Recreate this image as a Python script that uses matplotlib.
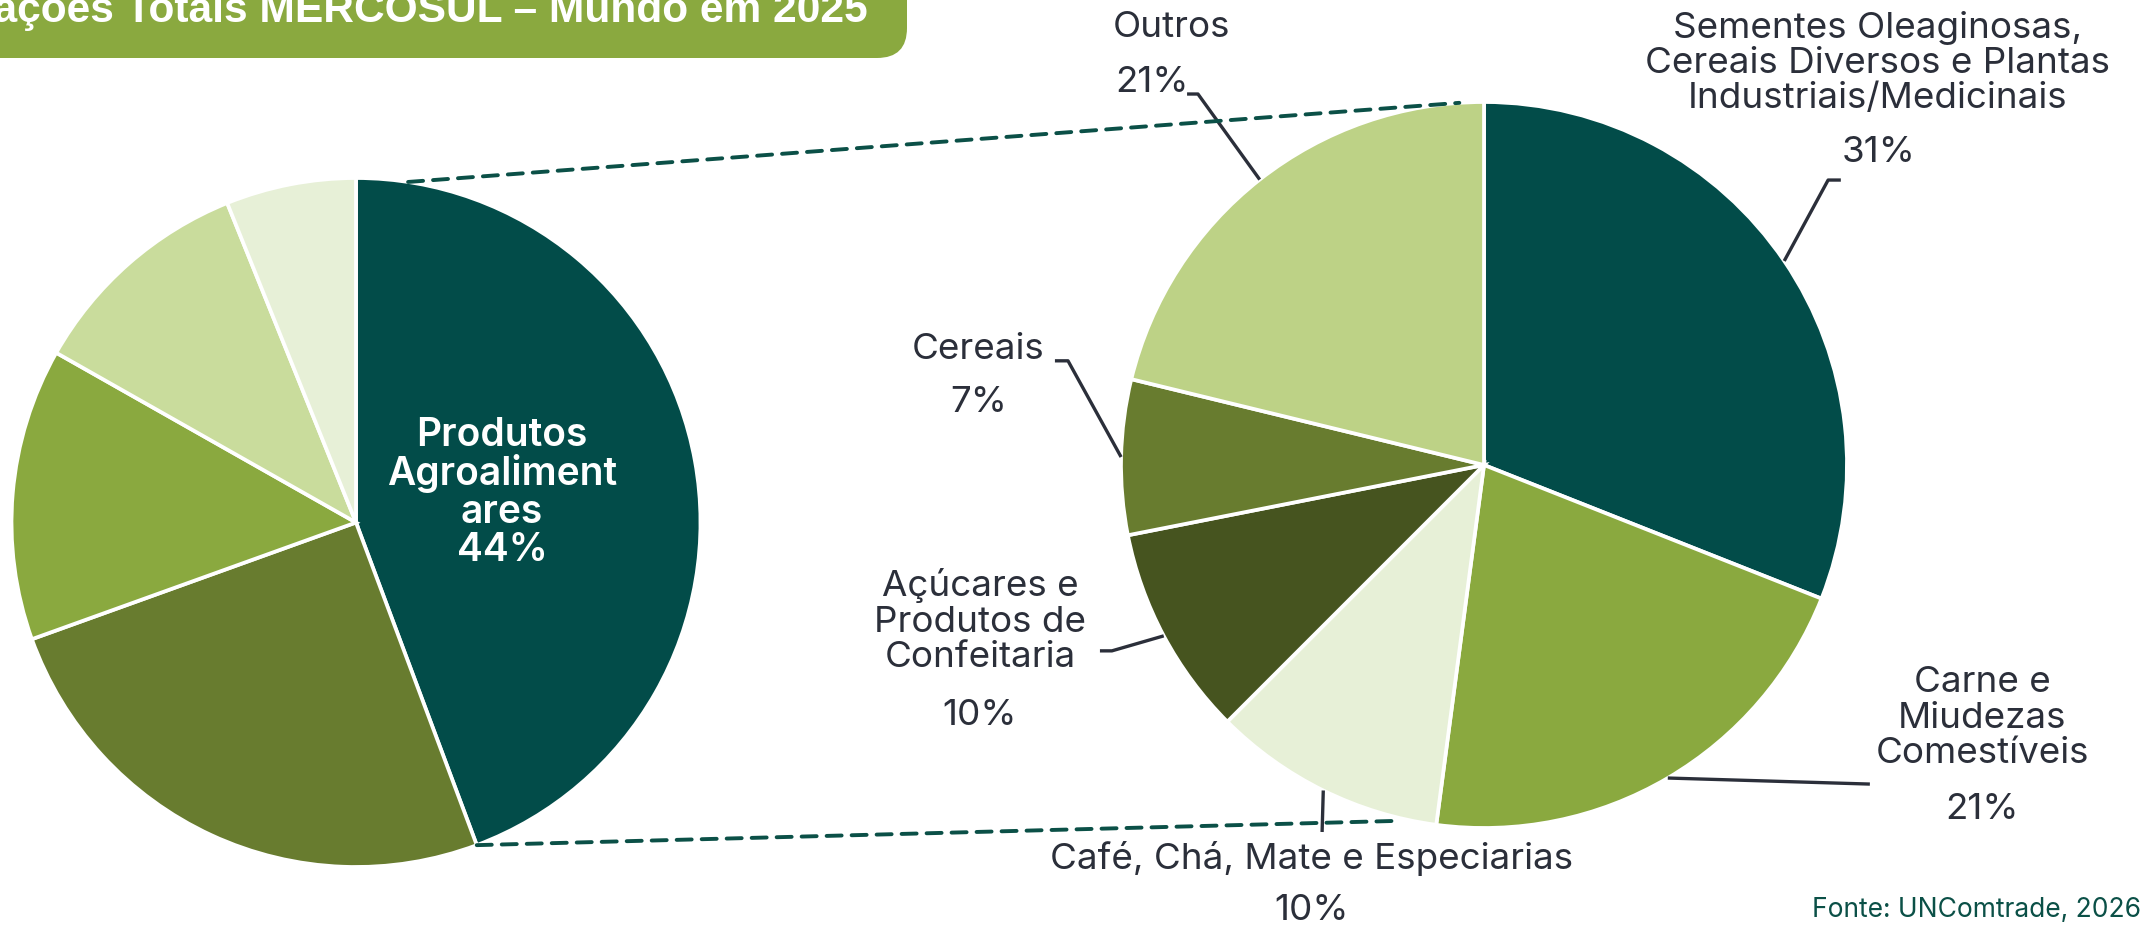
import matplotlib.pyplot as plt
from matplotlib.patches import FancyBboxPatch, ConnectionPatch
import numpy as np

plt.rcParams['font.family'] = ['Inter', 'DejaVu Sans']

# ---------- data ---------- #
# left pie: total exports, only the agro-food slice is labelled
left_values = [44.3, 25.2, 13.7, 10.7, 6.1]
left_name = "Produtos\nAgroaliment\nares"

# right pie: breakdown of agro-food products (clockwise from 12 o'clock)
right_names = [
    "Sementes Oleaginosas,\nCereais Diversos e Plantas\nIndustriais/Medicinais",
    "Carne e\nMiudezas\nComestíveis",
    "Café, Chá, Mate e Especiarias",
    "Açúcares e\nProdutos de\nConfeitaria",
    "Cereais",
    "Outros",
]
right_values = [31.0, 21.1, 10.4, 9.4, 6.9, 21.2]
right_pct = [31, 21, 10, 10, 7, 21]

# ---------- styling ---------- #
TEAL = "#024c49"
OLIVE = "#687c2f"
GREEN = "#8aa93f"
DARK_OLIVE = "#46541f"
TEXT = "#2b2f3a"
left_colors = [TEAL, OLIVE, GREEN, "#c9dc9c", "#e7f0d7"]
right_colors = [TEAL, GREEN, "#e7f0d7", DARK_OLIVE, OLIVE, "#bdd286"]

# label placement (right pie data units, radius = 1)
name_pos = [(1.085, 1.107), (1.372, -0.697), (-0.474, -1.083),
            (-1.388, -0.430), (-1.394, 0.317), (-0.862, 1.205)]
pct_pos = [(1.088, 0.860), (1.372, -0.948), (-0.474, -1.226),
           (-1.391, -0.689), (-1.391, 0.171), (-0.915, 1.055)]
# leader line start + elbow (end point is the wedge mid angle on the rim)
leaders = [[(0.983, 0.785), (0.948, 0.785)],
           [(1.063, -0.879)],
           [(-0.446, -1.011)],
           [(-1.058, -0.512), (-1.025, -0.512)],
           [(-1.182, 0.287), (-1.146, 0.287)],
           [(-0.818, 1.022), (-0.788, 1.022)]]

W, H = 2156, 926
fig = plt.figure(figsize=(W / 100, H / 100), dpi=100)

# background layer in pixel units for the title tab
bg = fig.add_axes([0, 0, 1, 1])
bg.set_xlim(0, W)
bg.set_ylim(H, 0)
bg.axis("off")
bg.add_patch(FancyBboxPatch((-60, -60), 907 + 60, 58 + 60,
                            boxstyle="round,pad=0,rounding_size=30",
                            facecolor=GREEN, edgecolor="none"))
fig.text(868 / W, (H - 22) / H, "Exportações Totais MERCOSUL – Mundo em 2025",
         ha="right", va="baseline", fontsize=30.6, fontweight="bold",
         family="Liberation Sans", color="white")

# ---------- left pie ---------- #
lc, lr = (356, 522.5), 344.5
ax1 = fig.add_axes([(lc[0] - lr) / W, (H - lc[1] - lr) / H, 2 * lr / W, 2 * lr / H])
w1, _ = ax1.pie(left_values, colors=left_colors, startangle=90, counterclock=False,
                wedgeprops=dict(edgecolor="white", linewidth=2.7))
ax1.set_xlim(-1, 1)
ax1.set_ylim(-1, 1)
ax1.axis("off")
ax1.text(0.424, 0.086, f"{left_name}\n{round(left_values[0])}%", ha="center", va="center",
         fontsize=28, fontweight="semibold", color="white", linespacing=1.03)

# ---------- right pie ---------- #
rc, rr = (1484, 465), 363
ax2 = fig.add_axes([(rc[0] - rr) / W, (H - rc[1] - rr) / H, 2 * rr / W, 2 * rr / H])
w2, _ = ax2.pie(right_values, colors=right_colors, startangle=90, counterclock=False,
                wedgeprops=dict(edgecolor="white", linewidth=2.7))
ax2.set_xlim(-1, 1)
ax2.set_ylim(-1, 1)
ax2.axis("off")

for i, wedge in enumerate(w2):
    mid = np.deg2rad((wedge.theta1 + wedge.theta2) / 2)
    pts = leaders[i] + [(np.cos(mid), np.sin(mid))]
    xs, ys = zip(*pts)
    ax2.plot(xs, ys, color=TEXT, lw=2.4, solid_capstyle="butt", clip_on=False, zorder=5)
    ax2.text(*name_pos[i], right_names[i], ha="center", va="center", fontsize=26.5,
             color=TEXT, linespacing=1.09)
    ax2.text(*pct_pos[i], f"{right_pct[i]}%", ha="center", va="center", fontsize=26.5,
             color=TEXT)

# ---------- dashed zoom connectors ---------- #
lw_dash = 2.8
dash = (0, (15 * 0.72 / lw_dash, 10 * 0.72 / lw_dash))
a_top = np.deg2rad(90 - 8.7)
a_bot = np.deg2rad(w1[0].theta1)
b_top = np.deg2rad(90 + 3.9)
b_bot = np.deg2rad(90 - 194.5)
for (pa, pb) in [((np.cos(a_top), np.sin(a_top)), (np.cos(b_top), np.sin(b_top))),
                 ((np.cos(a_bot), np.sin(a_bot)), (1.013 * np.cos(b_bot), 1.013 * np.sin(b_bot)))]:
    con = ConnectionPatch(xyA=pa, coordsA="data", axesA=ax1,
                          xyB=pb, coordsB="data", axesB=ax2,
                          color="#0b5047", lw=lw_dash, linestyle=dash)
    fig.add_artist(con)

fig.text(2141 / W, (H - 910) / H, "Fonte: UNComtrade, 2026", ha="right", va="center",
         fontsize=19, color="#0b5047")

fig.savefig("out.png", dpi=100)
